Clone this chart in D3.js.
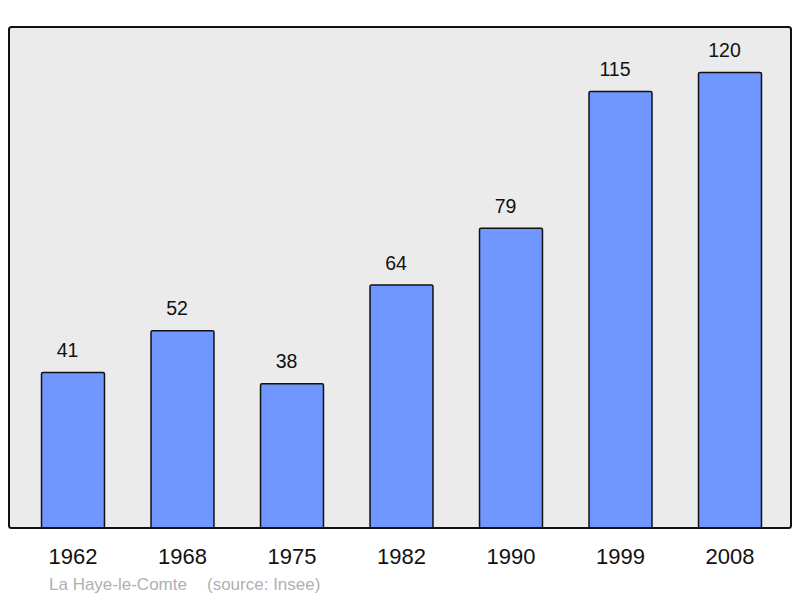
<!DOCTYPE html>
<html>
<head>
<meta charset="utf-8">
<script src="https://cdn.jsdelivr.net/npm/d3@7"></script>
<style>
  html, body { margin: 0; padding: 0; background: #ffffff; }
  svg { display: block; }
</style>
</head>
<body>
<svg id="chart" width="800" height="598"></svg>
<script>
const years = ["1962", "1968", "1975", "1982", "1990", "1999", "2008"];
const population = [41, 52, 38, 64, 79, 115, 120];
const footerName = "La Haye-le-Comte";
const footerSource = "(source: Insee)";

const svg = d3.select("#chart");
const frame = { left: 9, top: 27, right: 791, bottom: 528 };

const x = d3.scaleBand()
  .domain(years)
  .range([18.25, 784.75])
  .paddingInner(0.425)
  .paddingOuter(0.2125);

const y = d3.scaleLinear()
  .domain([0, 132])
  .range([frame.bottom, frame.top]);

// plot background frame
svg.append("rect")
  .attr("x", frame.left)
  .attr("y", frame.top)
  .attr("width", frame.right - frame.left)
  .attr("height", frame.bottom - frame.top)
  .attr("rx", 2.5)
  .attr("fill", "#ebebeb")
  .attr("stroke", "none");

// bars
svg.append("g").selectAll("rect")
  .data(years)
  .join("rect")
  .attr("x", d => x(d))
  .attr("y", (d, i) => y(population[i]))
  .attr("width", x.bandwidth())
  .attr("height", (d, i) => y(0) - y(population[i]))
  .attr("rx", 1.5)
  .attr("fill", "#7097ff")
  .attr("stroke", "#111")
  .attr("stroke-width", 1.5);

// frame border on top
svg.append("rect")
  .attr("x", frame.left)
  .attr("y", frame.top)
  .attr("width", frame.right - frame.left)
  .attr("height", frame.bottom - frame.top)
  .attr("rx", 2.5)
  .attr("fill", "none")
  .attr("stroke", "#111")
  .attr("stroke-width", 2);

// value labels (slightly left of bar centre, as in the reference)
svg.append("g").selectAll("text")
  .data(years)
  .join("text")
  .attr("x", d => x(d) + x.bandwidth() / 2 - 5.5)
  .attr("y", (d, i) => y(population[i]) - 15.5)
  .attr("text-anchor", "middle")
  .attr("font-family", "Liberation Sans, Arial, sans-serif")
  .attr("font-size", 19.5)
  .attr("fill", "#111")
  .text((d, i) => population[i]);

// x axis labels
const xAxis = d3.axisBottom(x).tickSize(0).tickPadding(0);
const gx = svg.append("g")
  .attr("transform", `translate(0, ${frame.bottom})`)
  .call(xAxis);
gx.select(".domain").remove();
gx.selectAll("text")
  .attr("y", 36)
  .attr("dy", 0)
  .attr("font-family", "Liberation Sans, Arial, sans-serif")
  .attr("font-size", 22)
  .attr("fill", "#111");

// footer
svg.append("text")
  .attr("x", 49)
  .attr("y", 590)
  .attr("font-family", "Liberation Sans, Arial, sans-serif")
  .attr("font-size", 17)
  .attr("fill", "#b0b0b0")
  .text(footerName);
svg.append("text")
  .attr("x", 207)
  .attr("y", 590)
  .attr("font-family", "Liberation Sans, Arial, sans-serif")
  .attr("font-size", 17)
  .attr("fill", "#b0b0b0")
  .text(footerSource);
</script>
</body>
</html>
